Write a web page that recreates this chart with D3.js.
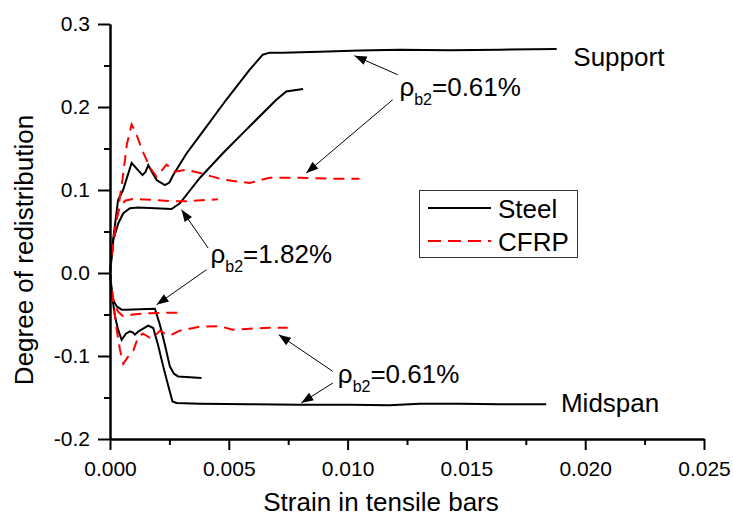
<!DOCTYPE html>
<html>
<head>
<meta charset="utf-8">
<script src="https://cdn.jsdelivr.net/npm/d3@7"></script>
<style>
  body { margin: 0; background: #fff; }
  text { font-family: Arial, "Liberation Sans", sans-serif; fill: #000; }
</style>
</head>
<body>
<svg id="chart" width="733" height="517"></svg>
<script>
// strain [-], degree of redistribution [-]
const steelSupport061 = [
  [0, 0], [0.00013, 0.04], [0.00034, 0.088], [0.00055, 0.10], [0.00091, 0.1325],
  [0.00118, 0.124], [0.00137, 0.118], [0.0015, 0.122], [0.00161, 0.130], [0.00172, 0.124],
  [0.00196, 0.112], [0.00231, 0.106], [0.0025, 0.109], [0.00266, 0.118], [0.00322, 0.144],
  [0.00392, 0.171], [0.0049, 0.209], [0.00588, 0.245], [0.00643, 0.263], [0.00672, 0.2655],
  [0.00727, 0.2655], [0.00882, 0.2667], [0.0105, 0.268], [0.0122, 0.269], [0.0143, 0.2685],
  [0.0164, 0.269], [0.0188, 0.27]
];
const steelSupport182 = [
  [0, 0], [0.00014, 0.040], [0.00035, 0.060], [0.00056, 0.072], [0.00084, 0.078],
  [0.00119, 0.079], [0.00259, 0.077], [0.00294, 0.084], [0.00378, 0.1145], [0.00476, 0.1446],
  [0.00574, 0.1727], [0.0070, 0.2088], [0.00742, 0.2188], [0.00812, 0.2217]
];
const cfrpSupport061 = [
  [0, 0], [0.00013, 0.034], [0.00034, 0.076], [0.00055, 0.118], [0.00071, 0.155],
  [0.00091, 0.179], [0.00109, 0.169], [0.00134, 0.149], [0.00168, 0.127], [0.00196, 0.116],
  [0.00238, 0.1305], [0.00273, 0.122], [0.00322, 0.1245], [0.00378, 0.1205], [0.00476, 0.1124],
  [0.00588, 0.1084], [0.00672, 0.1148], [0.00798, 0.1148], [0.00924, 0.1136], [0.0105, 0.1136]
];
const cfrpSupport182 = [
  [0, 0], [0.00013, 0.034], [0.00025, 0.0618], [0.00038, 0.0763], [0.00063, 0.0871],
  [0.00095, 0.0892], [0.00168, 0.0883], [0.00266, 0.0863], [0.00322, 0.0863], [0.00454, 0.0889]
];
const steelMidspan182 = [
  [0, 0], [0.00007, -0.0201], [0.00013, -0.0322], [0.00028, -0.0402], [0.00049, -0.0442],
  [0.0007, -0.0442], [0.00126, -0.0436], [0.00189, -0.043], [0.0021, -0.0623], [0.00231, -0.0864],
  [0.00252, -0.1125], [0.00269, -0.1213], [0.00287, -0.1246], [0.00336, -0.1255], [0.00385, -0.1265]
];
const steelMidspan061 = [
  [0, 0], [0.00008, -0.0261], [0.00021, -0.0523], [0.00034, -0.0683], [0.00049, -0.0804],
  [0.00067, -0.0731], [0.00084, -0.0704], [0.00097, -0.0719], [0.00105, -0.0743], [0.00119, -0.0704],
  [0.00143, -0.0663], [0.00161, -0.0635], [0.00182, -0.0663], [0.00202, -0.0864], [0.00224, -0.1125],
  [0.00244, -0.1346], [0.00263, -0.1547], [0.0028, -0.1566], [0.00378, -0.1575], [0.00588, -0.1581],
  [0.00798, -0.1587], [0.01008, -0.1587], [0.01176, -0.1593], [0.01303, -0.1575], [0.01471, -0.1575],
  [0.01639, -0.1581], [0.01836, -0.1581]
];
const cfrpMidspan182 = [
  [0, 0], [0.00008, -0.0261], [0.00021, -0.0382], [0.00034, -0.0466], [0.00055, -0.052],
  [0.00105, -0.0496], [0.00168, -0.0484], [0.00252, -0.0478], [0.00307, -0.0478]
];
const cfrpMidspan061 = [
  [0, 0], [0.00013, -0.0322], [0.00028, -0.0683], [0.00042, -0.0924], [0.00056, -0.1093],
  [0.00076, -0.1008], [0.00098, -0.0936], [0.00119, -0.0767], [0.00139, -0.0731], [0.00168, -0.078],
  [0.00189, -0.076], [0.0021, -0.0695], [0.00238, -0.0743], [0.00261, -0.074], [0.00294, -0.0695],
  [0.00378, -0.0647], [0.00462, -0.0641], [0.00517, -0.0683], [0.00588, -0.0671], [0.00672, -0.0659],
  [0.00748, -0.0659]
];

const xTicks = [0, 0.005, 0.01, 0.015, 0.02, 0.025];
const yTicks = [-0.2, -0.1, 0, 0.1, 0.2, 0.3];
const legendNames = ["Steel", "CFRP"];

// annotation arrows: [tail, tip] in data units
const arrows = [
  [[0.01211, 0.2389], [0.01029, 0.2618]],
  [[0.0119, 0.2088], [0.00826, 0.1205]],
  [[0.00413, 0.0301], [0.00301, 0.0763]],
  [[0.00406, 0.004], [0.00196, -0.0382]],
  [[0.00938, -0.1186], [0.0071, -0.0743]],
  [[0.00938, -0.1325], [0.00805, -0.1566]]
];
const rhoLabels = [
  { x: 0.01218, y: 0.2128, value: "=0.61%" },
  { x: 0.00423, y: 0.012, value: "=1.82%" },
  { x: 0.00959, y: -0.1325, value: "=0.61%" }
];
const sideLabels = [
  { x: 0.0195, y: 0.249, text: "Support" },
  { x: 0.01898, y: -0.1675, text: "Midspan" }
];

const svg = d3.select("#chart");
const x = d3.scaleLinear().domain([0, 0.025]).range([110, 704]);
const y = d3.scaleLinear().domain([-0.2, 0.3]).range([439, 24]);

const line = d3.line().x((d) => x(d[0])).y((d) => y(d[1]));

const series = [
  { data: steelSupport061, dash: null },
  { data: steelSupport182, dash: null },
  { data: steelMidspan182, dash: null },
  { data: steelMidspan061, dash: null },
  { data: cfrpSupport061, dash: "11,7" },
  { data: cfrpSupport182, dash: "11,7" },
  { data: cfrpMidspan182, dash: "11,7" },
  { data: cfrpMidspan061, dash: "11,7" }
];

svg
  .append("g")
  .selectAll("path")
  .data(series)
  .enter()
  .append("path")
  .attr("d", (d) => line(d.data))
  .attr("fill", "none")
  .attr("stroke", (d) => (d.dash ? "#ff0000" : "#000"))
  .attr("stroke-width", 2)
  .attr("stroke-dasharray", (d) => d.dash);

// axes
const xAxis = svg
  .append("g")
  .attr("transform", `translate(0,${y(-0.2)})`)
  .call(
    d3.axisBottom(x).tickValues(xTicks).tickSize(11).tickSizeOuter(0).tickPadding(11)
      .tickFormat((d) => d.toFixed(3))
  );
const xMinor = svg
  .append("g")
  .attr("transform", `translate(0,${y(-0.2)})`)
  .call(
    d3.axisBottom(x).tickValues(d3.range(0.0025, 0.025, 0.005)).tickSize(6).tickSizeOuter(0)
      .tickFormat("")
  );
const yAxis = svg
  .append("g")
  .attr("transform", `translate(${x(0)},0)`)
  .call(
    d3.axisLeft(y).tickValues(yTicks).tickSize(12).tickSizeOuter(0).tickPadding(8)
      .tickFormat((d) => d.toFixed(1))
  );
const yMinor = svg
  .append("g")
  .attr("transform", `translate(${x(0)},0)`)
  .call(
    d3.axisLeft(y).tickValues(d3.range(-0.15, 0.3, 0.1)).tickSize(6).tickSizeOuter(0)
      .tickFormat("")
  );

[xAxis, xMinor, yAxis, yMinor].forEach((g) => {
  g.selectAll("path, line").attr("stroke", "#000").attr("stroke-width", 2);
  g.selectAll("text").style("font-size", "21px").attr("fill", "#000");
});

// axis titles
svg
  .append("text")
  .attr("x", 381)
  .attr("y", 511)
  .attr("text-anchor", "middle")
  .style("font-size", "26px")
  .text("Strain in tensile bars");
svg
  .append("text")
  .attr("transform", "translate(33,250) rotate(-90)")
  .attr("text-anchor", "middle")
  .style("font-size", "26px")
  .text("Degree of redistribution");

// arrows
svg
  .append("defs")
  .append("marker")
  .attr("id", "arrowhead")
  .attr("viewBox", "0 -5 12 10")
  .attr("refX", 12)
  .attr("refY", 0)
  .attr("markerUnits", "userSpaceOnUse")
  .attr("markerWidth", 14)
  .attr("markerHeight", 10)
  .attr("orient", "auto")
  .append("path")
  .attr("d", "M0,-4.5L12,0L0,4.5Z")
  .attr("fill", "#000");

svg
  .append("g")
  .selectAll("line")
  .data(arrows)
  .enter()
  .append("line")
  .attr("x1", (d) => x(d[0][0]))
  .attr("y1", (d) => y(d[0][1]))
  .attr("x2", (d) => x(d[1][0]))
  .attr("y2", (d) => y(d[1][1]))
  .attr("stroke", "#000")
  .attr("stroke-width", 1)
  .attr("marker-end", "url(#arrowhead)");

const rho = svg
  .append("g")
  .selectAll("text")
  .data(rhoLabels)
  .enter()
  .append("text")
  .attr("x", (d) => x(d.x))
  .attr("y", (d) => y(d.y))
  .style("font-size", "26px");
rho.append("tspan").text("ρ");
rho.append("tspan").attr("dy", 9).style("font-size", "16px").text("b2");
rho.append("tspan").attr("dy", -9).text((d) => d.value);

svg
  .append("g")
  .selectAll("text")
  .data(sideLabels)
  .enter()
  .append("text")
  .attr("x", (d) => x(d.x))
  .attr("y", (d) => y(d.y))
  .style("font-size", "26px")
  .text((d) => d.text);

// legend
const legend = svg.append("g").attr("transform", "translate(419,190)");
legend
  .append("rect")
  .attr("x", 0.5)
  .attr("y", 0.5)
  .attr("width", 158)
  .attr("height", 67)
  .attr("fill", "#fff")
  .attr("stroke", "#333")
  .attr("stroke-width", 1);
const item = legend
  .selectAll("g.item")
  .data(legendNames)
  .enter()
  .append("g")
  .attr("class", "item")
  .attr("transform", (d, i) => `translate(0,${18 + i * 33})`);
item
  .append("line")
  .attr("x1", 9)
  .attr("x2", 72)
  .attr("stroke", (d, i) => (i ? "#ff0000" : "#000"))
  .attr("stroke-width", 2)
  .attr("stroke-dasharray", (d, i) => (i ? "13,7" : null));
item
  .append("text")
  .attr("x", 79)
  .attr("y", 10)
  .style("font-size", "26px")
  .text((d) => d);
</script>
</body>
</html>
